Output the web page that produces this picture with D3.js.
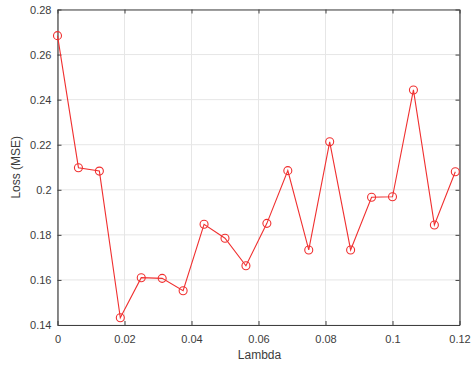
<!DOCTYPE html>
<html><head><meta charset="utf-8">
<script src="https://cdn.jsdelivr.net/npm/d3@7"></script>
<style>body{margin:0;background:#fff}svg{display:block}text{font-family:"Liberation Sans",Arial,sans-serif}</style>
</head><body>
<svg id="c" width="471" height="366"></svg>
<script>
const lambdas = [0, 0.00625, 0.0125, 0.01875, 0.025, 0.03125, 0.0375, 0.04375, 0.05, 0.05625,
  0.0625, 0.06875, 0.075, 0.08125, 0.0875, 0.09375, 0.1, 0.10625, 0.1125, 0.11875];
const loss = [0.2684, 0.2098, 0.2083, 0.1432, 0.1610, 0.1607, 0.1552, 0.1847, 0.1785, 0.1663,
  0.1851, 0.2085, 0.1733, 0.2213, 0.1733, 0.1967, 0.1969, 0.2443, 0.1844, 0.2080];
const xTicks = [0, 0.02, 0.04, 0.06, 0.08, 0.1, 0.12];
const xTickLabels = ["0", "0.02", "0.04", "0.06", "0.08", "0.1", "0.12"];
const yTicks = [0.14, 0.16, 0.18, 0.2, 0.22, 0.24, 0.26, 0.28];
const yTickLabels = ["0.14", "0.16", "0.18", "0.2", "0.22", "0.24", "0.26", "0.28"];
const xLabel = "Lambda", yLabel = "Loss (MSE)";

const L = 57.5, R = 459.5, T = 9.5, B = 325;
const svg = d3.select("#c");
const x = d3.scaleLinear().domain([0, 0.12]).range([L, R]);
const y = d3.scaleLinear().domain([0.14, 0.28]).range([B, T]);
const axisCol = "#404040";
const textCol = "#3c3c3c";

// grid
const g = svg.append("g");
g.selectAll(".gx").data(xTicks).join("line").attr("x1", d => x(d)).attr("x2", d => x(d))
  .attr("y1", T).attr("y2", B).attr("stroke", "#e6e6e6").attr("stroke-width", 1);
g.selectAll(".gy").data(yTicks).join("line").attr("y1", d => y(d)).attr("y2", d => y(d))
  .attr("x1", L).attr("x2", R).attr("stroke", "#e6e6e6").attr("stroke-width", 1);

// axes
const tl = 4;
const ax = svg.append("g").attr("transform", `translate(0,${B})`)
  .call(d3.axisBottom(x).tickValues(xTicks).tickFormat((d, i) => xTickLabels[i]).tickSizeInner(-tl).tickSizeOuter(0).tickPadding(10));
const ay = svg.append("g").attr("transform", `translate(${L},0)`)
  .call(d3.axisLeft(y).tickValues(yTicks).tickFormat((d, i) => yTickLabels[i]).tickSizeInner(-tl).tickSizeOuter(0).tickPadding(6));
const axt = svg.append("g").attr("transform", `translate(0,${T})`)
  .call(d3.axisTop(x).tickValues(xTicks).tickFormat("").tickSizeInner(-tl).tickSizeOuter(0));
const ayr = svg.append("g").attr("transform", `translate(${R},0)`)
  .call(d3.axisRight(y).tickValues(yTicks).tickFormat("").tickSizeInner(-tl).tickSizeOuter(0));
[ax, ay, axt, ayr].forEach(a => {
  a.select(".domain").attr("stroke", axisCol).attr("stroke-width", 1.2);
  a.selectAll(".tick line").attr("stroke", axisCol);
  a.selectAll(".tick text").attr("fill", textCol).style("font-size", "11px").style("font-family", "'Liberation Sans',Arial,sans-serif");
});

// line + markers
const line = d3.line().x((d, i) => x(lambdas[i])).y(d => y(d));
svg.append("path").datum(loss).attr("d", line).attr("fill", "none").attr("stroke", "#f03030").attr("stroke-width", 1.1);
svg.selectAll(".pt").data(loss).join("circle").attr("cx", (d, i) => x(lambdas[i])).attr("cy", d => y(d))
  .attr("r", 4).attr("fill", "none").attr("stroke", "#f03030").attr("stroke-width", 1.1);

// labels
svg.append("text").attr("x", (L + R) / 2 + 1).attr("y", 359).attr("text-anchor", "middle")
  .attr("fill", textCol).style("font-size", "12px").text(xLabel);
svg.append("text").attr("transform", `translate(20,${(T + B) / 2}) rotate(-90)`).attr("text-anchor", "middle")
  .attr("fill", textCol).style("font-size", "12px").text(yLabel);
</script>
</body></html>
